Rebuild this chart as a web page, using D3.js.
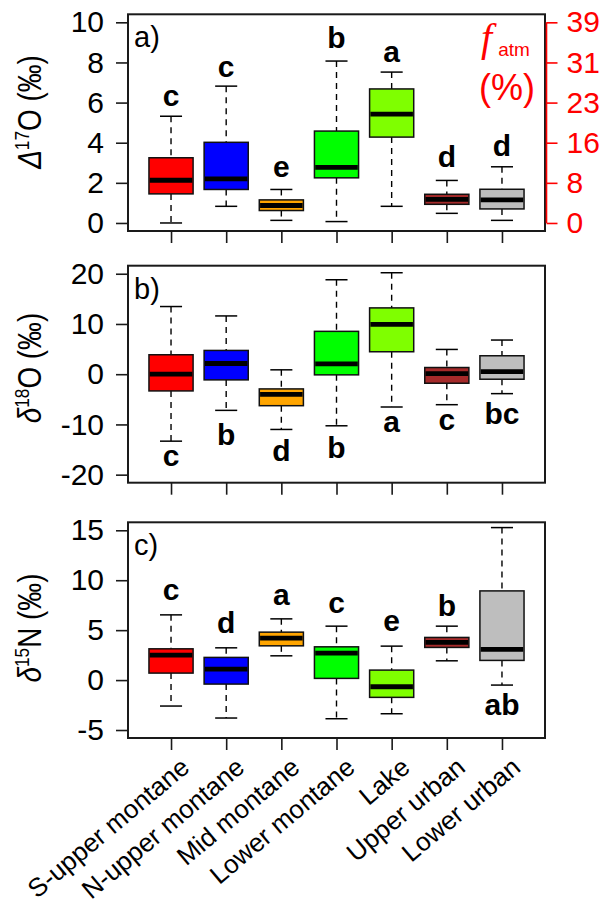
<!DOCTYPE html>
<html>
<head>
<meta charset="utf-8">
<script src="https://cdn.jsdelivr.net/npm/d3@7"></script>
<style>
  html, body { margin: 0; padding: 0; background: #fff; }
  svg { display: block; font-family: "Liberation Sans", Arial, Helvetica, sans-serif; }
</style>
</head>
<body>
<svg id="chart" width="605" height="908"></svg>
<script>
// Sampling sites along the transect
const sites = ["S-upper montane", "N-upper montane", "Mid montane", "Lower montane", "Lake", "Upper urban", "Lower urban"];
const siteColors = ["#FF0000", "#0000FF", "#FFA500", "#00FF00", "#7FFF00", "#A52A2A", "#BEBEBE"];

// Box statistics per site: [lower whisker, Q1, median, Q3, upper whisker]
const d17O = [
  [0.00, 1.45, 2.13, 3.25, 5.32],
  [0.83, 1.67, 2.20, 4.02, 6.82],
  [0.13, 0.62, 0.87, 1.15, 1.67],
  [0.07, 2.25, 2.77, 4.58, 8.07],
  [0.83, 4.28, 5.42, 6.68, 7.52],
  [0.48, 0.93, 1.18, 1.43, 2.12],
  [0.13, 0.70, 1.15, 1.68, 2.80]
];
const d18O = [
  [-13.33, -3.33, 0.00, 3.87, 13.47],
  [-7.20, -1.13, 2.13, 4.73, 11.60],
  [-11.00, -6.27, -4.00, -2.93, 0.87],
  [-10.27, -0.13, 2.07, 8.53, 18.80],
  [-6.53, 4.47, 9.93, 13.20, 20.20],
  [-6.07, -1.80, 0.13, 1.33, 4.93],
  [-3.87, -1.00, 0.53, 3.67, 6.80]
];
const d15N = [
  [-2.60, 0.70, 2.50, 3.13, 6.53],
  [-3.80, -0.40, 1.10, 2.27, 3.23],
  [2.43, 3.43, 4.20, 4.80, 6.13],
  [-3.87, 0.17, 2.70, 3.33, 5.40],
  [-3.37, -1.73, -0.67, 1.00, 3.40],
  [1.93, 3.27, 3.77, 4.27, 5.40],
  [-0.50, 1.97, 3.07, 8.93, 15.27]
];

// Significance groups and the value at which each letter sits (baseline)
const groups17O = ["c", "c", "e", "b", "a", "d", "d"];
const groupY17O = [5.82, 7.28, 2.28, 8.73, 8.03, 2.78, 3.32];
const groups18O = ["c", "b", "d", "b", "a", "c", "bc"];
const groupY18O = [-18.33, -14.0, -17.33, -16.67, -11.47, -11.13, -10.0];
const groups15N = ["c", "d", "a", "c", "e", "b", "ab"];
const groupY15N = [8.0, 4.73, 7.5, 6.73, 4.93, 6.4, -3.5];

// Axis ticks
const ticks17O = [0, 2, 4, 6, 8, 10];
const ticks18O = [-20, -10, 0, 10, 20];
const ticks15N = [-5, 0, 5, 10, 15];
// Atmospheric nitrate fraction (%) on the right of panel a, at the Δ17O ticks
const fatmTickValues = [0, 2, 4, 6, 8, 10];
const fatmTickLabels = ["0", "8", "16", "23", "31", "39"];

const svg = d3.select("#chart");
const x = d3.scaleLinear().domain([0.22, 7.78]).range([128, 545]);
const boxHalf = 0.4, capHalf = 0.2;

const panels = [
  { key: "a)", data: d17O, groups: groups17O, groupY: groupY17O, ticks: ticks17O,
    domain: [-0.4, 10.4], top: 14.3, bottom: 231, title: ["Δ", "17", "O (‰)"], titleCenter: 112 },
  { key: "b)", data: d18O, groups: groups18O, groupY: groupY18O, ticks: ticks18O,
    domain: [-21.6, 21.6], top: 265.7, bottom: 482.7, title: ["δ", "18", "O (‰)"], titleCenter: 368 },
  { key: "c)", data: d15N, groups: groups15N, groupY: groupY15N, ticks: ticks15N,
    domain: [-5.8, 15.8], top: 522.3, bottom: 738, title: ["δ", "15", "N (‰)"], titleCenter: 628 }
];

panels.forEach((p, pi) => {
  const y = d3.scaleLinear().domain(p.domain).range([p.bottom, p.top]);
  const g = svg.append("g");

  // Whiskers (dashed) and staples
  const bx = g.selectAll("g.box").data(p.data).join("g").attr("class", "box");
  bx.append("line")
    .attr("x1", (d, i) => x(i + 1)).attr("x2", (d, i) => x(i + 1))
    .attr("y1", d => y(d[4])).attr("y2", d => y(d[3]))
    .attr("stroke", "#000").attr("stroke-width", 1.4).attr("stroke-dasharray", "6,5");
  bx.append("line")
    .attr("x1", (d, i) => x(i + 1)).attr("x2", (d, i) => x(i + 1))
    .attr("y1", d => y(d[1])).attr("y2", d => y(d[0]))
    .attr("stroke", "#000").attr("stroke-width", 1.4).attr("stroke-dasharray", "6,5");
  [0, 4].forEach(k => {
    bx.append("line")
      .attr("x1", (d, i) => x(i + 1 - capHalf)).attr("x2", (d, i) => x(i + 1 + capHalf))
      .attr("y1", d => y(d[k])).attr("y2", d => y(d[k]))
      .attr("stroke", "#000").attr("stroke-width", 1.5);
  });
  // Boxes
  bx.append("rect")
    .attr("x", (d, i) => x(i + 1 - boxHalf))
    .attr("width", x(1 + boxHalf) - x(1 - boxHalf))
    .attr("y", d => y(d[3]))
    .attr("height", d => y(d[1]) - y(d[3]))
    .attr("fill", (d, i) => siteColors[i])
    .attr("stroke", "#111").attr("stroke-width", 1.5);
  // Medians
  bx.append("line")
    .attr("x1", (d, i) => x(i + 1 - boxHalf) + 0.8).attr("x2", (d, i) => x(i + 1 + boxHalf) - 0.8)
    .attr("y1", d => y(d[2])).attr("y2", d => y(d[2]))
    .attr("stroke", "#000").attr("stroke-width", 4.8);

  // Group letters
  g.selectAll("text.grp").data(p.groups).join("text").attr("class", "grp")
    .attr("x", (d, i) => x(i + 1)).attr("y", (d, i) => y(p.groupY[i]))
    .attr("text-anchor", "middle").attr("font-weight", "bold").attr("font-size", 30)
    .text(d => d);

  // Frame
  g.append("rect").attr("x", x.range()[0]).attr("y", p.top)
    .attr("width", x.range()[1] - x.range()[0]).attr("height", p.bottom - p.top)
    .attr("fill", "none").attr("stroke", "#1a1a1a").attr("stroke-width", 2);

  // Left axis
  const ya = g.append("g").attr("transform", `translate(${x.range()[0]},0)`)
    .call(d3.axisLeft(y).tickValues(p.ticks).tickSize(12).tickPadding(12).tickFormat(d => String(d)));
  ya.select(".domain").remove();
  ya.selectAll(".tick line").attr("stroke", "#1a1a1a").attr("stroke-width", 1.6);
  ya.selectAll(".tick text").attr("font-size", 30).attr("fill", "#000")
    .attr("font-family", "'Liberation Sans', Arial, sans-serif");

  // Bottom ticks
  const xa = g.append("g").attr("transform", `translate(0,${p.bottom})`)
    .call(d3.axisBottom(x).tickValues(d3.range(1, sites.length + 1)).tickSize(12).tickFormat(""));
  xa.select(".domain").remove();
  xa.selectAll(".tick line").attr("stroke", "#1a1a1a").attr("stroke-width", 1.6);

  // Panel key
  g.append("text").attr("x", 134).attr("y", p.top + 33).attr("font-size", 29).text(p.key);

  // Y title
  const t = g.append("text")
    .attr("transform", `translate(41,${p.titleCenter}) rotate(-90) scale(0.82,1)`)
    .attr("text-anchor", "middle").attr("font-size", 34);
  t.append("tspan").attr("font-style", "italic").text(p.title[0]);
  t.append("tspan").attr("font-size", 21).attr("dy", -12).text(p.title[1]);
  t.append("tspan").attr("dy", 12).text(p.title[2]);
});

// Right axis of panel a: atmospheric nitrate fraction
{
  const p = panels[0];
  const y = d3.scaleLinear().domain(p.domain).range([p.bottom, p.top]);
  const ra = svg.append("g").attr("transform", `translate(${x.range()[1] + 1.5},0)`)
    .call(d3.axisRight(y).tickValues(fatmTickValues).tickSize(11).tickPadding(9)
      .tickFormat((d, i) => fatmTickLabels[i]));
  ra.select(".domain").attr("d", `M0,${y(0)}V${y(10)}`).attr("stroke", "#FF0000").attr("stroke-width", 1.6);
  ra.selectAll(".tick line").attr("stroke", "#FF0000").attr("stroke-width", 1.6);
  ra.selectAll(".tick text").attr("font-size", 30).attr("fill", "#FF0000")
    .attr("font-family", "'Liberation Sans', Arial, sans-serif");

  const ft = svg.append("text").attr("x", 481).attr("y", 51).attr("fill", "#FF0000");
  ft.append("tspan").attr("font-family", "'Liberation Serif', serif").attr("font-style", "italic")
    .attr("font-size", 40).text("f");
  ft.append("tspan").attr("font-size", 19).attr("dx", 6).attr("dy", 5).text("atm");
  svg.append("text").attr("x", 507).attr("y", 100).attr("text-anchor", "middle")
    .attr("fill", "#FF0000").attr("font-size", 36).text("(%)");
}

// Site labels under the bottom panel
{
  const p = panels[2];
  svg.append("g").selectAll("text").data(sites).join("text")
    .attr("transform", (d, i) => `translate(${x(i + 1) + 20},${p.bottom + 32}) rotate(-40)`)
    .attr("text-anchor", "end").attr("font-size", 26).text(d => d);
}
</script>
</body>
</html>
